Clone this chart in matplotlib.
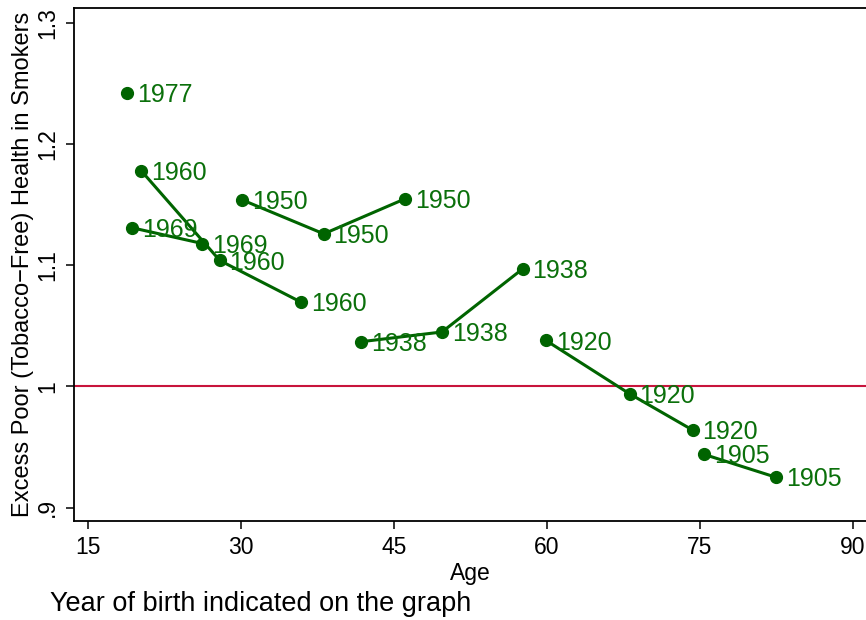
import matplotlib
matplotlib.use("Agg")
import matplotlib.pyplot as plt

plt.rcParams["font.family"] = ["Liberation Sans", "DejaVu Sans"]

# cohorts: birth year, ages, excess poor health ratio
cohort_years = [1977, 1969, 1960, 1950, 1938, 1920, 1905]
cohort_ages = [
    [18.8],
    [19.3, 26.2],
    [20.2, 27.9, 35.9],
    [30.1, 38.1, 46.1],
    [41.8, 49.7, 57.6],
    [59.9, 68.1, 74.3],
    [75.4, 82.5],
]
cohort_values = [
    [1.242],
    [1.131, 1.118],
    [1.178, 1.104, 1.0695],
    [1.154, 1.126, 1.155],
    [1.037, 1.045, 1.097],
    [1.038, 0.994, 0.964],
    [0.944, 0.925],
]

x_ticks = [15, 30, 45, 60, 75, 90]
y_ticks = [0.9, 1.0, 1.1, 1.2, 1.3]
y_tick_labels = [".9", "1", "1.1", "1.2", "1.3"]

green = "#006400"
label_green = "#0B700B"

fig = plt.figure(figsize=(8.66, 6.2), dpi=100)
ax = fig.add_axes([0.0855, 0.1597, 0.9145, 0.8274])

for year, ages, vals in zip(cohort_years, cohort_ages, cohort_values):
    ax.plot(ages, vals, color=green, lw=2.2, marker="o", ms=8.5,
            solid_capstyle="round", zorder=3)
    for a, v in zip(ages, vals):
        ax.annotate(str(year), (a, v), xytext=(7, -1.5), textcoords="offset points",
                    va="center", ha="left", fontsize=18, color=label_green,
                    zorder=4)

ax.axhline(1.0, color="#C8143C", lw=1.5, zorder=2)

ax.set_xlim(13.6, 91.3)
ax.set_ylim(0.889, 1.3124)
ax.set_xticks(x_ticks)
ax.set_yticks(y_ticks)
ax.set_yticklabels(y_tick_labels, rotation=90, va="center")
ax.tick_params(labelsize=16.5, length=6, width=1.1, pad=5)
for s in ["left", "bottom", "top"]:
    ax.spines[s].set_linewidth(1.3)
ax.spines["right"].set_visible(False)

ax.set_xlabel("Age", fontsize=16.5, labelpad=2)
ax.set_ylabel("Excess Poor (Tobacco\u2212Free) Health in Smokers", fontsize=17, labelpad=1)
fig.text(50 / 866, 1 - 604 / 620, "Year of birth indicated on the graph",
         fontsize=19.5, va="center", ha="left")

fig.savefig("out.png", dpi=100)
